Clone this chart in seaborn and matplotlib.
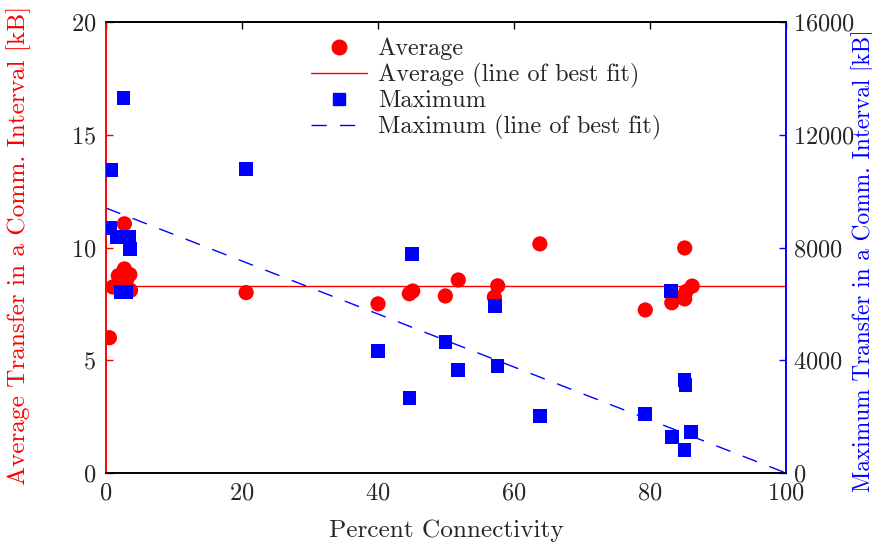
import matplotlib
matplotlib.use("Agg")
import matplotlib.pyplot as plt
import seaborn as sns
import pandas as pd
from matplotlib.lines import Line2D

sns.set_style("white")
plt.rcParams["font.family"] = ["cmr10", "DejaVu Serif"]
plt.rcParams["mathtext.fontset"] = "cm"
plt.rcParams["axes.unicode_minus"] = False
plt.rcParams["axes.formatter.use_mathtext"] = True

# Average transfer per communication interval [kB]
avg_conn = [0.5, 1.0, 1.8, 2.7, 2.7, 2.4, 3.0, 3.5, 3.6,
            20.6, 40.0, 44.6, 45.1, 49.9, 51.8, 57.1, 57.6, 63.8,
            79.3, 83.2, 83.2, 85.1, 85.3, 85.1, 86.2]
avg_kb = [6.0, 8.25, 8.75, 11.05, 9.05, 8.2, 8.55, 8.8, 8.1,
          8.0, 7.5, 7.95, 8.07, 7.85, 8.56, 7.8, 8.3, 10.16,
          7.23, 7.95, 7.55, 7.72, 8.05, 9.98, 8.29]

# Maximum transfer per communication interval [kB]
max_conn = [0.7, 2.6, 0.6, 1.6, 3.4, 3.5, 2.2, 2.9,
            20.6, 40.0, 45.0, 44.6, 49.9, 51.8, 57.2, 57.6, 63.8,
            79.3, 83.1, 83.2, 85.1, 85.2, 85.1, 86.0]
max_kb = [10750, 13300, 8690, 8370, 8370, 7950, 6420, 6420,
          10790, 4330, 7770, 2660, 4650, 3650, 5930, 3800, 2020,
          2090, 6460, 1280, 3300, 3120, 820, 1450]

# Lines of best fit
fit_conn = [0, 100]
avg_fit = [8.3, 8.3]
max_fit = [9400, 0]

avg_df = pd.DataFrame({"conn": avg_conn, "kb": avg_kb})
max_df = pd.DataFrame({"conn": max_conn, "kb": max_kb})
avg_fit_df = pd.DataFrame({"conn": fit_conn, "kb": avg_fit})
max_fit_df = pd.DataFrame({"conn": fit_conn, "kb": max_fit})

RED = "#ff0000"
BLUE = "#0000ff"
DASH = (11, 9.5)
FS = 17.5
LFS = 18.2

fig = plt.figure(figsize=(8.72, 5.46), dpi=100)
ax = fig.add_axes([0.1216, 0.1337, 0.7798, 0.826])
ax2 = ax.twinx()

sns.lineplot(data=avg_fit_df, x="conn", y="kb", ax=ax, color=RED, lw=1.0)
sns.scatterplot(data=avg_df, x="conn", y="kb", ax=ax, color=RED, marker="o",
                s=120, edgecolor="none", zorder=3)

sns.lineplot(data=max_fit_df, x="conn", y="kb", ax=ax2, color=BLUE, lw=1.0)
ax2.lines[-1].set_dashes(DASH)
sns.scatterplot(data=max_df, x="conn", y="kb", ax=ax2, color=BLUE, marker="s",
                s=95, edgecolor="none", zorder=3)

ax.set_xlim(0, 100)
ax.set_ylim(0, 20)
ax2.set_ylim(0, 16000)
ax.set_xticks([0, 20, 40, 60, 80, 100])
ax.set_yticks([0, 5, 10, 15, 20])
ax2.set_yticks([0, 4000, 8000, 12000, 16000])

ax.set_xlabel("Percent Connectivity", fontsize=LFS)
ax.set_ylabel("Average Transfer in a Comm. Interval [kB]", fontsize=LFS,
              color=RED)
ax2.set_ylabel("Maximum Transfer in a Comm. Interval [kB]", fontsize=16.8,
               color=BLUE)
ax.xaxis.set_label_coords(0.5, -0.103)
ax.yaxis.set_label_coords(-0.110, 0.505)
ax2.yaxis.set_label_coords(1.096, 0.47)

ax.tick_params(axis="x", direction="in", length=5, width=1, labelsize=FS,
               top=True, pad=7, color="black")
ax.tick_params(axis="y", direction="in", length=5, width=1, labelsize=FS,
               color=RED, pad=7)
ax2.tick_params(axis="y", direction="in", length=5, width=1, labelsize=FS,
                color=BLUE, pad=5)

for a in (ax, ax2):
    for side in ("top", "bottom", "left", "right"):
        a.spines[side].set_visible(True)
        a.spines[side].set_linewidth(1.2)
        a.spines[side].set_color("black")
ax.spines["left"].set_color(RED)
ax2.spines["left"].set_color(RED)
ax2.spines["right"].set_color(BLUE)
ax.spines["right"].set_color(BLUE)

handles = [
    Line2D([], [], marker="o", color=RED, linestyle="none", markersize=10.5),
    Line2D([], [], color=RED, lw=1.0),
    Line2D([], [], marker="s", color=BLUE, linestyle="none", markersize=9),
    Line2D([], [], color=BLUE, lw=1.0, dashes=DASH),
]
labels = ["Average", "Average (line of best fit)", "Maximum",
          "Maximum (line of best fit)"]
ax2.legend(handles, labels, loc="upper left", bbox_to_anchor=(0.278, 1.0),
           frameon=False, fontsize=FS, handlelength=2.3, handletextpad=0.45,
           labelspacing=0.1, borderaxespad=0.25)

fig.savefig("out.png", dpi=100)
